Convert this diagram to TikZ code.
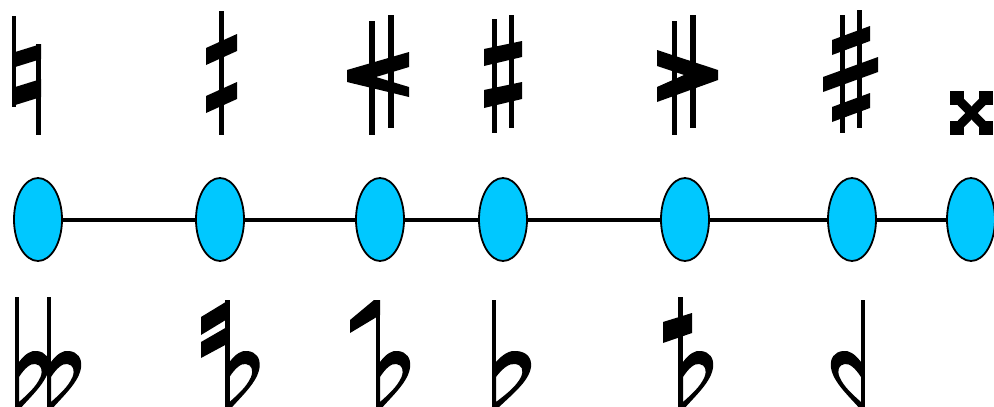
\documentclass[tikz,border=0pt]{standalone}
\usetikzlibrary{shapes.geometric}
\definecolor{nodecyan}{RGB}{0,200,255}
\tikzset{
  pitch/.style={ellipse, draw=black, line width=1.8pt, fill=nodecyan, minimum width=48pt, minimum height=83pt, inner sep=0pt},
  link/.style={line width=4pt, black},
}
% flat bowl, stem right edge at x=0, y absolute
\newcommand\flatbowl[2]{%
  \begin{scope}[shift={(#1,0)}, xscale=#2]
    \fill[even odd rule]
      (0,362) .. controls (7,354) and (14,350) .. (21,351)
              .. controls (31,352) and (36,358) .. (35,367)
              .. controls (33,382) and (14,396) .. (0,410) -- cycle
      (0,377) .. controls (6,369) and (13,363) .. (19,364)
              .. controls (26,365) and (28,370) .. (25,377)
              .. controls (20,387) and (9,395) .. (0,402) -- cycle;
  \end{scope}}
\begin{document}
\begin{tikzpicture}[x=1pt, y=-1pt]
\useasboundingbox (0,0) rectangle (994,407);
% ---- nodes and connectors
\node[pitch] (n1) at (38,219.5) {};
\node[pitch] (n2) at (220,219.5) {};
\node[pitch] (n3) at (380,219.5) {};
\node[pitch] (n4) at (503,219.5) {};
\node[pitch] (n5) at (685,219.5) {};
\node[pitch] (n6) at (852,219.5) {};
\node[pitch] (n7) at (971,219.5) {};
\draw[link] (n1) -- (n2);
\draw[link] (n2) -- (n3);
\draw[link] (n3) -- (n4);
\draw[link] (n4) -- (n5);
\draw[link] (n5) -- (n6);
\draw[link] (n6) -- (n7);
% ---- top row
% natural
\fill (12,16) rectangle (16,107);
\fill (36,44) rectangle (41,135);
\fill (12,53) -- (41,44) -- (41,59) -- (12,68) -- cycle;
\fill (12,88) -- (41,79) -- (41,97) -- (12,106) -- cycle;
% half sharp
\fill (219,11) rectangle (224,135);
\fill (206,48) -- (237,34) -- (237,51) -- (206,65) -- cycle;
\fill (206,96) -- (237,82) -- (237,99) -- (206,113) -- cycle;
% two stems with left chevron
\fill (369,21) rectangle (375,135);
\fill (388,15) rectangle (394,128);
\fill (347,70) -- (409,52) -- (409,67) -- (376,77) -- (409,87) -- (409,97) -- (347,82) -- cycle;
% sharp
\fill (492,19) rectangle (497,133);
\fill (509,15) rectangle (514,128);
\fill (484,49) -- (522,41) -- (522,57) -- (484,66) -- cycle;
\fill (484,90) -- (522,82) -- (522,99) -- (484,108) -- cycle;
% two stems with right chevron
\fill (672,21) rectangle (677,135);
\fill (690,15) rectangle (696,128);
\fill (657,50) -- (718,70) -- (718,80) -- (657,102) -- (657,87) -- (684,75) -- (657,66) -- cycle;
% three-bar sharp
\fill (840,15) rectangle (845,133);
\fill (857,10) rectangle (862,128);
\fill (832,40) -- (870,26) -- (870,41) -- (832,55) -- cycle;
\fill (823,77) -- (878,57) -- (878,72) -- (823,92) -- cycle;
\fill (832,107) -- (870,93) -- (870,108) -- (832,122) -- cycle;
% double sharp
\fill (950,91) rectangle (964,105);
\fill (979,91) rectangle (993,105);
\fill (950,121) rectangle (964,135);
\fill (979,121) rectangle (993,135);
\draw[line width=9pt] (957,98) -- (986,128);
\draw[line width=9pt] (986,98) -- (957,128);
% ---- bottom row
% double flat
\fill (15,297) rectangle (19,410);
\flatbowl{19}{0.86}
\fill (47,297) rectangle (51,410);
\flatbowl{51}{0.86}
% flat with two slashes
\fill (225,300) rectangle (229.5,410);
\fill (201,317) -- (229,300) -- (229,318) -- (201,335) -- cycle;
\fill (201,342) -- (227,327) -- (227,344) -- (201,358) -- cycle;
\flatbowl{229.5}{0.86}
% flat with one slash
\fill (350,320) -- (374,300) -- (380,300) -- (380,315) -- (350,333) -- cycle;
\fill (376,300) rectangle (380,410);
\flatbowl{380}{0.86}
% flat
\fill (492,300) rectangle (496,410);
\flatbowl{496}{1}
% flat with bar
\fill (678,297) rectangle (683,410);
\fill (663,322) -- (692,313) -- (692,333) -- (663,343) -- cycle;
\flatbowl{683}{0.86}
% reversed flat
\fill (861,300) rectangle (865,410);
\flatbowl{861}{-0.86}
\end{tikzpicture}
\end{document}
